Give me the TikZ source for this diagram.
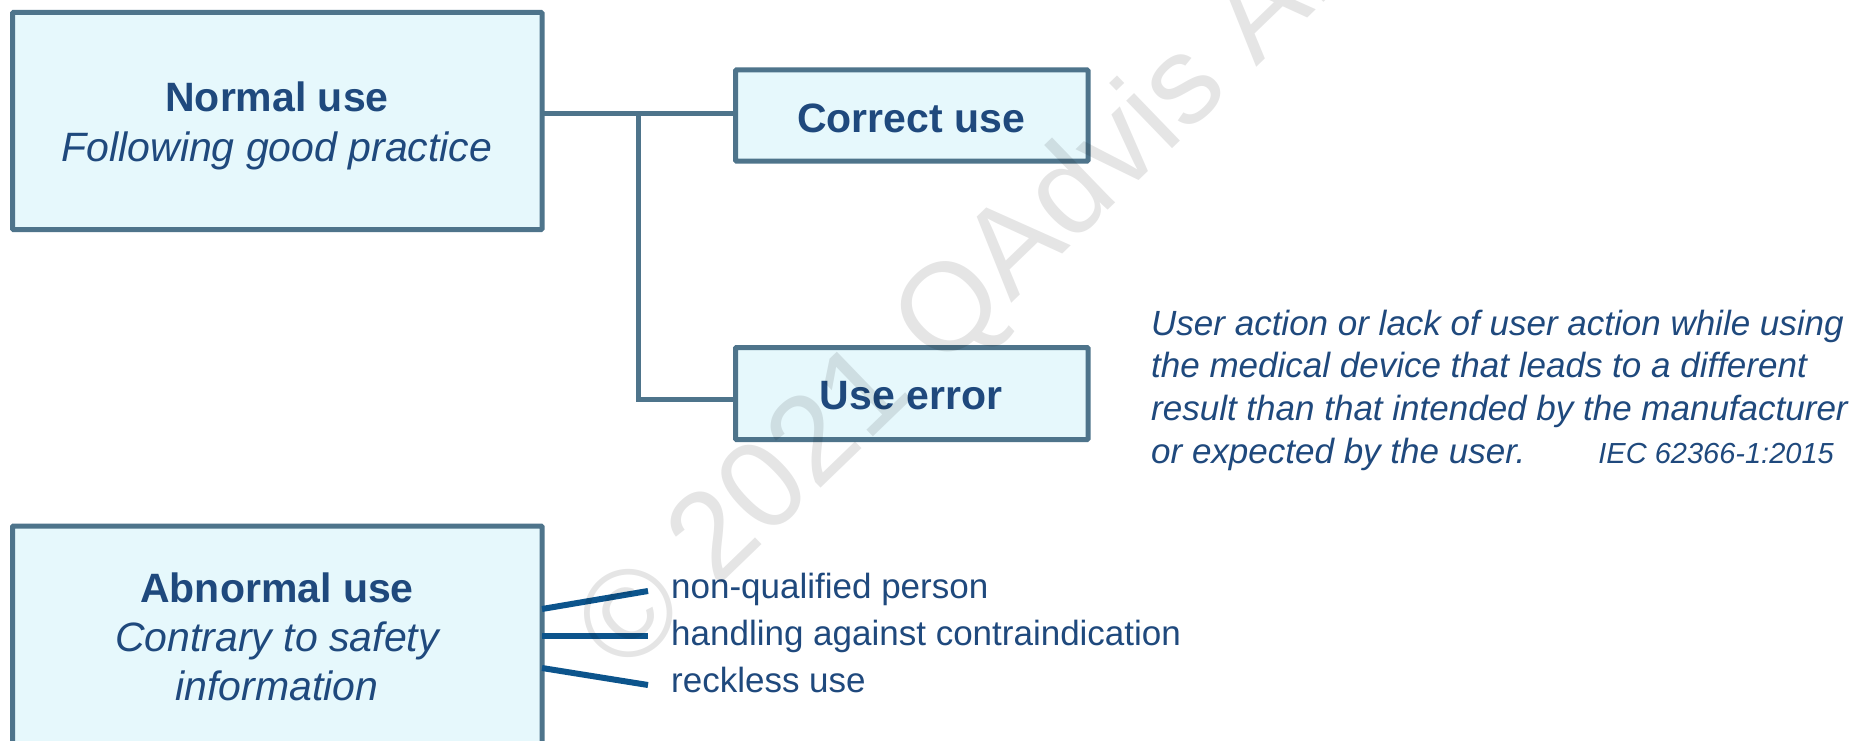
\documentclass[tikz,border=0pt]{standalone}
\usepackage{fontspec}
\setmainfont{Liberation Sans}
\definecolor{txtblue}{RGB}{31,73,125}
\definecolor{boxline}{RGB}{78,116,139}
\definecolor{boxfill}{RGB}{230,248,252}
\definecolor{itemline}{RGB}{12,84,140}
\begin{document}
\begin{tikzpicture}[x=1pt,y=-1pt,
  box/.style={draw=boxline,fill=boxfill,line width=5pt,rounded corners=1pt,inner sep=0pt,outer sep=0pt},
  conn/.style={draw=boxline,line width=5pt},
  itemln/.style={draw=itemline,line width=6pt},
  lbl/.style={text=txtblue,inner sep=0pt,anchor=base},
  big/.style={font=\bfseries\fontsize{41}{41}\selectfont},
  bigit/.style={font=\itshape\fontsize{41}{41}\selectfont},
  itemtxt/.style={text=txtblue,inner sep=0pt,anchor=base west,font=\fontsize{35}{35}\selectfont},
  deftxt/.style={text=txtblue,inner sep=0pt,anchor=base west,font=\itshape\fontsize{35}{35}\selectfont},
]
\useasboundingbox (0,0) rectangle (1871,741);
\fill[white] (0,0) rectangle (1871,741);

% boxes
\node[box,minimum width=529.5pt,minimum height=217pt] (normal) at (277.25,121) {};
\node[box,minimum width=352.5pt,minimum height=91pt] (correct) at (911.75,115.5) {};
\node[box,minimum width=352.5pt,minimum height=92pt] (err) at (911.75,393.5) {};
\node[box,minimum width=529.5pt,minimum height=244pt] (abn) at (277.25,648) {};

% box texts
\node[lbl,big] (n1) at (277,112) {Normal use};
\node[lbl,bigit] (n2) at (277,161) {Following good practice};
\node[lbl,big] (c1) at (911,132) {Correct use};
\node[lbl,big] (e1) at (911,409) {Use error};
\node[lbl,big] (a1) at (277,602) {Abnormal use};
\node[lbl,bigit] (a2) at (277,651) {Contrary to safety};
\node[lbl,bigit] (a3) at (277,700) {information};

% tree connectors
\coordinate (j) at (638,114);
\coordinate (je) at (638,399.5);
\draw[conn] (normal.east |- j) -- (correct.west |- j);
\draw[conn] (j) -- (je) -- (err.west |- je);

% abnormal use items
\node[itemtxt] (i1) at (671,598) {non-qualified person};
\node[itemtxt] (i2) at (671,645) {handling against contraindication};
\node[itemtxt] (i3) at (671,692) {reckless use};
\coordinate (s1) at (542,609);
\coordinate (s2) at (542,636);
\coordinate (s3) at (542,668);
\coordinate (f1) at (648,591);
\coordinate (f2) at (648,636);
\coordinate (f3) at (648,685);
\draw[itemln] (abn.east |- s1) -- (f1);
\draw[itemln] (abn.east |- s2) -- (f2);
\draw[itemln] (abn.east |- s3) -- (f3);

% definition
\node[deftxt] (d1) at (1151,335) {User action or lack of user action while using};
\node[deftxt] (d2) at (1151,377) {the medical device that leads to a different};
\node[deftxt] (d3) at (1151,420) {result than that intended by the manufacturer};
\node[deftxt] (d4) at (1151,463) {or expected by the user.};
\node[text=txtblue,inner sep=0pt,anchor=base east,font=\itshape\fontsize{29}{29}\selectfont] (iec) at (1834,463) {IEC 62366-1:2015};

% watermark
\node[text=black,opacity=0.1,rotate=44,inner sep=0pt,font=\fontsize{125}{125}\selectfont] (wm) at (978,290) {© 2021 QAdvis AB};
\end{tikzpicture}
\end{document}
